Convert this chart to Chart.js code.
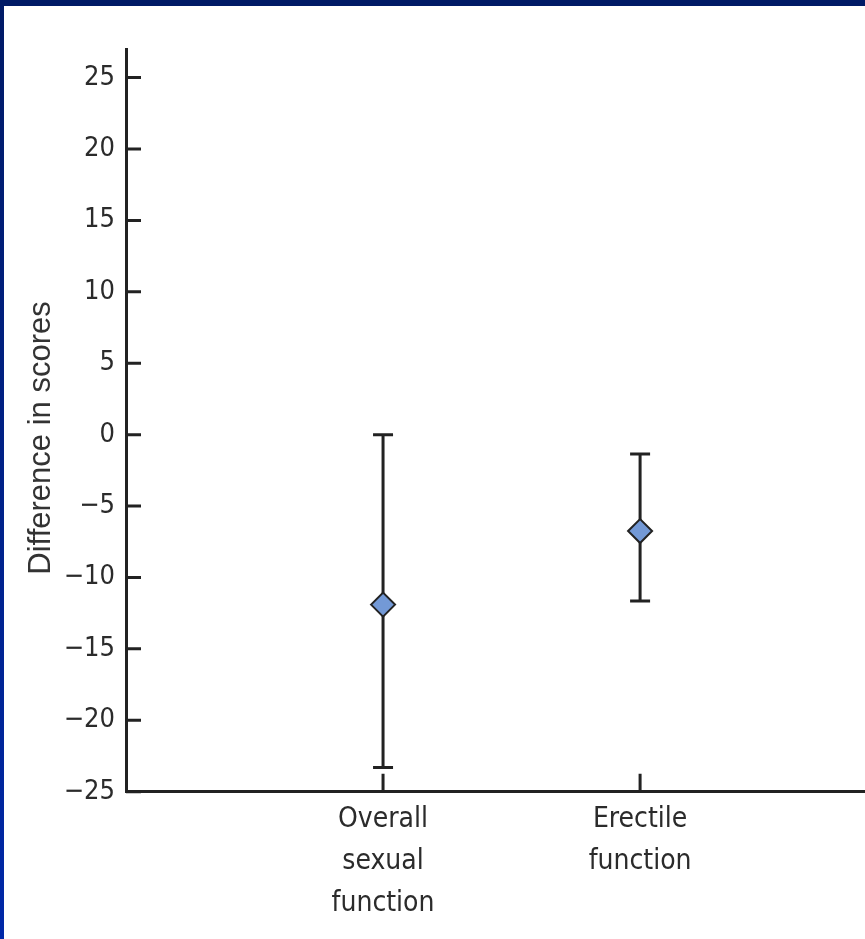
<!DOCTYPE html>
<html lang="en">
<head>
<meta charset="UTF-8">
<title>Difference in scores</title>
<script src="https://cdn.jsdelivr.net/npm/chart.js"></script>
<style>
  html, body { margin: 0; padding: 0; background: #fff; }
  #wrap { width: 865px; height: 939px; }
</style>
</head>
<body>
<div id="wrap"><canvas id="myChart" width="865" height="939"></canvas></div>
<script>
  // values
  const categories = [['Overall', 'sexual', 'function'], ['Erectile', 'function']];
  const xPositions = [1, 2];
  const meanDiff = [-11.9, -6.75];
  const lowerCI = [-23.3, -11.65];
  const upperCI = [0, -1.35];
  const yTickValues = [-25, -20, -15, -10, -5, 0, 5, 10, 15, 20, 25];
  const yTitle = 'Difference in scores';

  const ink = '#222';
  const narrow = "'Liberation Sans Narrow', 'Arial Narrow', 'DejaVu Sans Condensed', 'Liberation Sans', sans-serif";

  // navy slide frame behind the chart
  const framePlugin = {
    id: 'frame',
    beforeDraw(chart) {
      const ctx = chart.ctx;
      ctx.save();
      ctx.fillStyle = '#fff';
      ctx.fillRect(0, 0, chart.width, chart.height);
      ctx.fillStyle = '#001a66';
      ctx.fillRect(0, 0, chart.width, 6);
      const g = ctx.createLinearGradient(0, 0, 0, chart.height);
      g.addColorStop(0, '#001a66');
      g.addColorStop(1, '#0028a8');
      ctx.fillStyle = g;
      ctx.fillRect(0, 0, 4, chart.height);
      ctx.restore();
    }
  };

  // vertical CI lines with caps
  const errorBarPlugin = {
    id: 'errorBars',
    beforeDatasetsDraw(chart) {
      const {ctx, scales: {x, y}} = chart;
      ctx.save();
      ctx.strokeStyle = ink;
      ctx.lineWidth = 3;
      xPositions.forEach((v, i) => {
        const px = x.getPixelForValue(v);
        const top = y.getPixelForValue(upperCI[i]);
        const bot = y.getPixelForValue(lowerCI[i]);
        ctx.beginPath();
        ctx.moveTo(px, top); ctx.lineTo(px, bot);
        ctx.moveTo(px - 10, top); ctx.lineTo(px + 10, top);
        ctx.moveTo(px - 10, bot); ctx.lineTo(px + 10, bot);
        ctx.stroke();
      });
      ctx.restore();
    }
  };

  // ticks point inward, title drawn a bit below centre like the original
  const axisExtras = {
    id: 'axisExtras',
    afterDraw(chart) {
      const {ctx, chartArea, scales: {x, y}} = chart;
      ctx.save();
      ctx.strokeStyle = ink;
      ctx.lineWidth = 3;
      ctx.beginPath();
      y.ticks.forEach(t => {
        const py = y.getPixelForValue(t.value);
        ctx.moveTo(chartArea.left, py);
        ctx.lineTo(chartArea.left + 15, py);
      });
      x.ticks.forEach(t => {
        const px = x.getPixelForValue(t.value);
        ctx.moveTo(px, chartArea.bottom);
        ctx.lineTo(px, chartArea.bottom - 18);
      });
      ctx.stroke();

      ctx.translate(41, 438);
      ctx.rotate(-Math.PI / 2);
      ctx.fillStyle = '#333';
      ctx.font = "31px 'Liberation Sans', Arial, sans-serif";
      ctx.textAlign = 'center';
      ctx.textBaseline = 'middle';
      ctx.fillText(yTitle, 0, 0);
      ctx.restore();
    }
  };

  new Chart(document.getElementById('myChart'), {
    type: 'scatter',
    data: {
      datasets: [{
        label: 'Difference',
        data: xPositions.map((v, i) => ({x: v, y: meanDiff[i]})),
        pointStyle: 'rectRot',
        pointRadius: 12,
        pointHoverRadius: 12,
        backgroundColor: '#7399d6',
        borderColor: ink,
        borderWidth: 2,
        clip: false
      }]
    },
    options: {
      responsive: false,
      animation: false,
      events: [],
      layout: { autoPadding: false, padding: { top: 49, left: 0, right: 0, bottom: 0 } },
      plugins: {
        legend: { display: false },
        tooltip: { enabled: false }
      },
      scales: {
        x: {
          type: 'linear',
          min: 0,
          max: 2.875,
          afterBuildTicks: s => { s.ticks = xPositions.map(v => ({value: v})); },
          afterFit: s => { s.height = 939 - 791.7; s.paddingLeft = 0; s.paddingRight = 0; },
          grid: { drawOnChartArea: false, drawTicks: false },
          border: { display: true, width: 3, color: ink },
          ticks: {
            padding: 7,
            color: '#2b2b2b',
            font: { family: narrow, size: 28, lineHeight: 1.5 },
            maxRotation: 0,
            callback: (val) => categories[xPositions.indexOf(val)]
          }
        },
        y: {
          min: -25,
          max: 27,
          afterBuildTicks: s => { s.ticks = yTickValues.map(v => ({value: v})); },
          afterFit: s => { s.width = 126; s.paddingTop = 0; s.paddingBottom = 0; },
          grid: { drawOnChartArea: false, drawTicks: false },
          border: { display: true, width: 3, color: ink },
          ticks: {
            padding: 11,
            color: '#2b2b2b',
            font: { family: narrow, size: 27 },
            callback: (val) => val < 0 ? '\u2212' + Math.abs(val) : String(val)
          }
        }
      }
    },
    plugins: [framePlugin, errorBarPlugin, axisExtras]
  });
</script>
</body>
</html>
